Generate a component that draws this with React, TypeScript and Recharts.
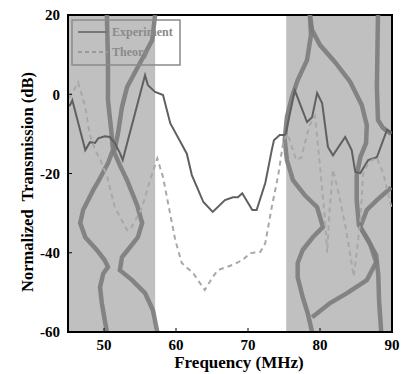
import React from "react"
import { LineChart, Line, XAxis, YAxis, ReferenceArea } from "recharts"

// frequency ticks (MHz) and transmission ticks (dB)
const freqTicks = [50, 60, 70, 80, 90]
const dbTicks = [-60, -40, -20, 0, 20]

// band gap (shaded) ranges in MHz
const gapStart = [45, 75.3]
const gapEnd = [57.1, 90]

// measured transmission
const expFreq = [45, 45.3, 45.6, 47.4, 48.05, 48.75, 49.2, 50.1, 50.8, 51.5, 52.2, 52.6, 55.7, 56.1, 57.1, 58.2, 59.2, 61, 61.5, 62.2, 62.9, 63.8, 65.1, 66.8, 67.9, 68.6, 69.2, 70.6, 71.2, 72.4, 73.3, 73.6, 74.4, 75.2, 76.5, 78.2, 78.9, 79.6, 80.3, 81.1, 81.8, 83.5, 84.4, 84.9, 85.6, 86.7, 87.9, 89.3, 90]
const expDb = [-3, -2.7, -1.5, -14.1, -12.1, -12.3, -11.1, -10.6, -10.8, -12.3, -14.8, -16.6, 4.8, 2.3, 0.6, -0.2, -7.3, -13.3, -15, -20.4, -23.4, -27.2, -29.7, -26.7, -26, -26, -25, -29.2, -29.2, -22.4, -14.1, -11.6, -10.3, -10.3, 1, -7, -5.8, 0.3, -2.3, -13.3, -15.4, -10.8, -14.1, -19.6, -19.9, -16.6, -15.9, -9, -9.8]

// theoretical transmission
const thFreq = [45.2, 46.4, 47.4, 48, 48.75, 49.4, 50.4, 51.5, 53.2, 53.6, 54.6, 55.3, 56.4, 57.4, 58.2, 58.9, 59.9, 60.8, 62.4, 64, 65, 65.8, 67.8, 69.2, 70.3, 71.7, 72.4, 73.3, 74.2, 74.9, 75.5, 76.7, 77.4, 78.5, 79.3, 80, 80.7, 81, 81.3, 81.8, 82.6, 83.6, 84.7, 85.6, 86, 86.8, 87.9, 88.8, 89.7, 90]
const thDb = [-1, 3, -3.2, -10, -14, -16.2, -20.5, -28.5, -34.3, -34.3, -31, -28.5, -21.7, -16.2, -20.9, -27.5, -36.8, -42.6, -45.2, -49.4, -46.4, -44.4, -43.1, -41.9, -40.1, -39.8, -37.6, -28.5, -20.4, -12, -10, -16.6, -16, -8, -5.5, -18, -32, -40, -30, -19, -25, -34, -46, -32, -20, -17, -16, -20, -27, -29]

// calculated band structure curves
const bandL1Freq = [50.4, 50.55, 50.55, 51, 51.25, 50.55, 49.45, 48.5, 47.1, 46.7, 47.4, 49, 50.1, 50.55, 49.9, 49.45, 49.7, 50.1, 50.4]
const bandL1Db = [20, 8.6, -1.5, -9, -14, -17.4, -21.2, -24.2, -29.2, -32.5, -36.1, -39.3, -41.9, -43.6, -45.2, -48.7, -52.7, -57, -60]
const bandL2Freq = [57.1, 56.7, 55, 53.2, 52.5, 51.95, 51.4, 52.2, 53.2, 54.6, 55.3, 54.7, 53.3, 52.5, 52.2, 53.9, 55.7, 56.8, 57.4]
const bandL2Db = [20, 13.7, 7.9, 1.8, -3.2, -9.8, -14.6, -17.9, -21.7, -28, -32.5, -36.1, -39.3, -41.1, -44.4, -46.9, -50.2, -54.5, -60]
const bandR1Freq = [78.6, 78.75, 78.2, 76.9, 76.1, 75.4, 75.1, 75.4, 76.25, 77.9, 79.6, 80.4, 79, 77.6, 76.9, 76.9, 77.6, 78.3, 78.9]
const bandR1Db = [20, 15, 8.6, 3.6, -0.7, -5.8, -11.6, -16.6, -21.7, -25.5, -28.5, -33.5, -36.1, -39.3, -42.6, -46.2, -51.2, -55.3, -60]
const bandR2Freq = [78.6, 78.9, 80, 82.1, 84.2, 85.8, 86.5, 86.4, 85.6, 85.1, 85.1, 85.4, 86.7, 87.8, 88.1, 88.2, 88.5]
const bandR2Db = [20, 16.2, 12.4, 8.1, 3.1, -2.7, -7.8, -12.3, -15.9, -20.4, -26.7, -33, -36.8, -40.6, -45.7, -52, -60]
const bandR3Freq = [88.05, 87.9, 88.05, 88.75, 89.9]
const bandR3Db = [20, 1.8, -6.5, -8.5, -10]
const bandR4Freq = [89.9, 87.9, 86.5, 85.6, 87, 87.8, 86.5, 83.75, 81.4, 78.9]
const bandR4Db = [-23.5, -26.7, -29.2, -33.5, -38, -42.4, -46.9, -50.2, -52.7, -56.3]

const toPoints = (fs: number[], vs: number[]) => fs.map((f, i) => ({ f, v: vs[i] }))

const bands = [
  toPoints(bandL1Freq, bandL1Db),
  toPoints(bandL2Freq, bandL2Db),
  toPoints(bandR1Freq, bandR1Db),
  toPoints(bandR2Freq, bandR2Db),
  toPoints(bandR3Freq, bandR3Db),
  toPoints(bandR4Freq, bandR4Db),
]
const experiment = toPoints(expFreq, expDb)
const theory = toPoints(thFreq, thDb)

const serif = "Liberation Serif, DejaVu Serif, serif"
const tickStyle = { fill: "#000", fontSize: 15, fontWeight: "bold", fontFamily: serif }

function ChartLegend() {
  return (
    <svg width={120} height={60} style={{ position: "absolute", left: 70, top: 18 }}>
      <rect x={2} y={2} width={108} height={45} fill="none" stroke="#8a8a8a" strokeWidth={1.5} />
      <line x1={8} y1={14} x2={38} y2={14} stroke="#777" strokeWidth={2} />
      <line x1={8} y1={34} x2={38} y2={34} stroke="#999" strokeWidth={2} strokeDasharray="4 3" />
      <text x={42} y={18} style={{ fontSize: 12, fontWeight: "bold", fontFamily: serif, fill: "#8a8a8a" }}>
        Experiment
      </text>
      <text x={42} y={38} style={{ fontSize: 12, fontWeight: "bold", fontFamily: serif, fill: "#8a8a8a" }}>
        Theory
      </text>
    </svg>
  )
}

export default function App() {
  return (
    <div style={{ position: "absolute", left: 0, top: 0, width: 401, height: 374, background: "#fff", fontFamily: serif }}>
      <LineChart width={401} height={374} margin={{ top: 15, right: 9, bottom: 12, left: 28 }} style={{ fontFamily: serif }}>
        <XAxis
          type="number"
          dataKey="f"
          domain={[45, 90]}
          ticks={freqTicks}
          allowDataOverflow
          height={30}
          tickSize={-4}
          tickMargin={11}
          axisLine={{ stroke: "#000", strokeWidth: 2 }}
          tickLine={{ stroke: "#000" }}
          tick={tickStyle}
          label={() => (
            <text
              x={239}
              y={368}
              textAnchor="middle"
              style={{ fontSize: 17, fontWeight: "bold", fontFamily: serif, fill: "#000" }}
            >
              Frequency (MHz)
            </text>
          )}
        />
        <YAxis
          type="number"
          dataKey="v"
          domain={[-60, 20]}
          ticks={dbTicks}
          allowDataOverflow
          width={40}
          tickSize={-4}
          tickMargin={12}
          axisLine={{ stroke: "#000", strokeWidth: 2 }}
          tickLine={{ stroke: "#000" }}
          tick={tickStyle}
          label={() => (
            <text
              x={27}
              y={182}
              transform="rotate(-90 27 182)"
              textAnchor="middle"
              dominantBaseline="central"
              style={{ fontSize: 16.5, fontWeight: "bold", fontFamily: serif, fill: "#000", whiteSpace: "pre" }}
            >
              Normalized  Transmission (dB)
            </text>
          )}
        />
        {gapStart.map((s, i) => (
          <ReferenceArea key={i} x1={s} x2={gapEnd[i]} y1={-60} y2={20} fill="#c0c0c0" fillOpacity={1} stroke="none" />
        ))}
        {bands.map((d, i) => (
          <Line
            key={i}
            data={d}
            dataKey="v"
            stroke="#7c7c7c"
            strokeWidth={4.5}
            strokeOpacity={0.9}
            dot={false}
            activeDot={false}
            isAnimationActive={false}
          />
        ))}
        <Line data={experiment} dataKey="v" stroke="#606060" strokeWidth={2} dot={false} isAnimationActive={false} />
        <Line
          data={theory}
          dataKey="v"
          stroke="#a8a8a8"
          strokeWidth={2}
          strokeDasharray="5 4"
          dot={false}
          isAnimationActive={false}
        />
        <ReferenceArea x1={45} x2={90} y1={-60} y2={20} fill="none" stroke="#000" strokeWidth={2} />
      </LineChart>
      <ChartLegend />
    </div>
  )
}
